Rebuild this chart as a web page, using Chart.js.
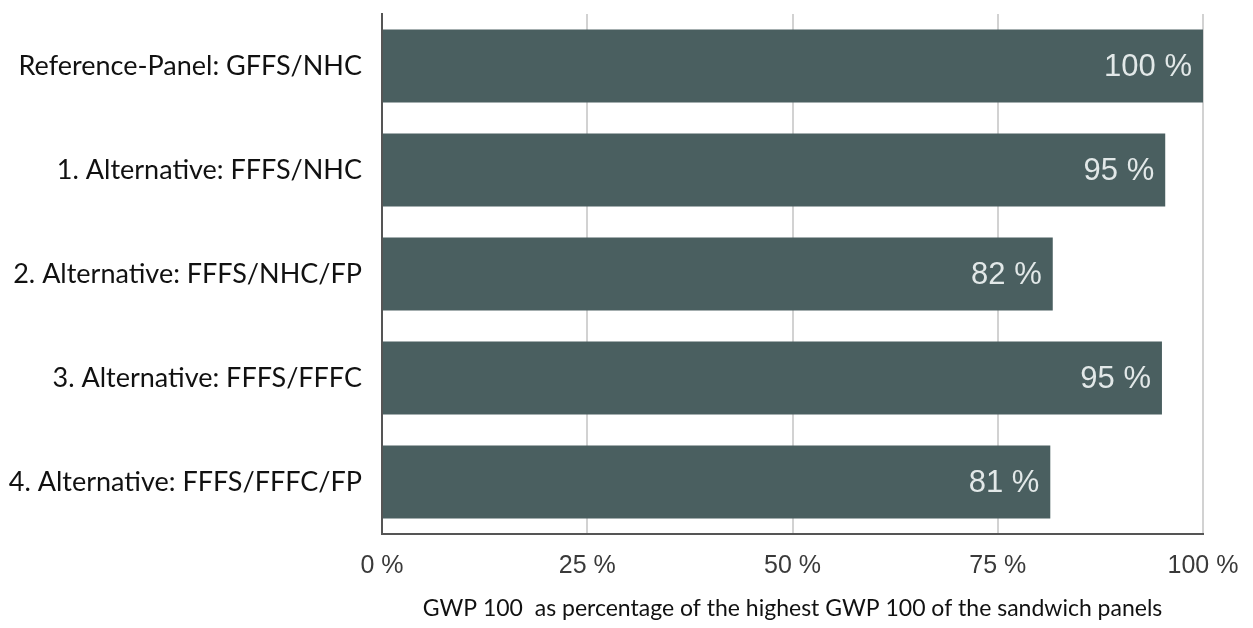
<!DOCTYPE html>
<html>
<head>
<meta charset="utf-8">
<script src="https://cdn.jsdelivr.net/npm/chart.js@4"></script>
<style>
  html, body { margin: 0; padding: 0; background: #fff; }
  #wrap { width: 1253px; height: 628px; }
</style>
</head>
<body>
<div id="wrap"><canvas id="graphique_gwp"></canvas></div>
<script>
// categories (y axis), values in % of the highest GWP 100
const categories = [
    "Reference-Panel: GFFS/NHC",
    "1. Alternative: FFFS/NHC",
    "2. Alternative: FFFS/NHC/FP",
    "3. Alternative: FFFS/FFFC",
    "4. Alternative: FFFS/FFFC/FP"
];
const gwpValues = [100, 95.4, 81.7, 95.0, 81.4];
const gwpLabels = ["100 %", "95 %", "82 %", "95 %", "81 %"];
const xTicks = [0, 25, 50, 75, 100];
const axisTitle = "GWP 100  as percentage of the highest GWP 100 of the sandwich panels";

// labels written inside the end of each bar
const barLabels = {
    id: 'barLabels',
    afterDatasetsDraw(chart) {
        const ctx = chart.ctx;
        const meta = chart.getDatasetMeta(0);
        ctx.save();
        ctx.font = '31px "Liberation Sans", Arial, sans-serif';
        ctx.fillStyle = '#e2e8e8';
        ctx.textAlign = 'right';
        ctx.textBaseline = 'middle';
        meta.data.forEach(function (bar, i) {
            ctx.fillText(gwpLabels[i], bar.x - 11, bar.y + 1);
        });
        ctx.restore();
    }
};

const graph = document.getElementById('graphique_gwp').getContext('2d');

new Chart(graph, {
    type: 'bar',
    data: {
        labels: categories,
        datasets: [{
            data: gwpValues,
            backgroundColor: "#4a5f60",
            borderWidth: 0,
            categoryPercentage: 0.7,
            barPercentage: 1.0
        }]
    },
    options: {
        indexAxis: 'y',
        responsive: true,
        maintainAspectRatio: false,
        animation: false,
        layout: {
            padding: { top: 14, right: 50, left: 0, bottom: 0 }
        },
        plugins: {
            legend: { display: false },
            tooltip: { enabled: false }
        },
        scales: {
            x: {
                min: 0,
                max: 100,
                afterBuildTicks: function (scale) {
                    scale.ticks = xTicks.map(v => ({ value: v }));
                },
                afterFit: function (scale) {
                    scale.height = 94;
                    scale.paddingLeft = 0;
                    scale.paddingRight = 0;
                },
                ticks: {
                    padding: 17,
                    color: "#3a3a3a",
                    font: { family: '"Liberation Sans", Arial, sans-serif', size: 25 },
                    callback: function (value) {
                        return value + ' %';
                    }
                },
                grid: {
                    color: "#d2d2d2",
                    lineWidth: 2,
                    drawTicks: false
                },
                border: {
                    display: true,
                    color: "#555555",
                    width: 2
                },
                title: {
                    display: true,
                    text: axisTitle,
                    color: "#111111",
                    font: { family: 'Lato, "Open Sans", sans-serif', size: 23 },
                    padding: { top: 0, bottom: 6 }
                }
            },
            y: {
                afterFit: function (scale) {
                    scale.width = 382;
                    scale.paddingTop = 0;
                    scale.paddingBottom = 0;
                },
                ticks: {
                    padding: 20,
                    color: "#111111",
                    font: { family: 'Lato, "Open Sans", sans-serif', size: 27 }
                },
                grid: {
                    display: false,
                    drawTicks: false
                },
                border: {
                    display: true,
                    color: "#555555",
                    width: 2
                }
            }
        }
    },
    plugins: [barLabels]
});
</script>
</body>
</html>
